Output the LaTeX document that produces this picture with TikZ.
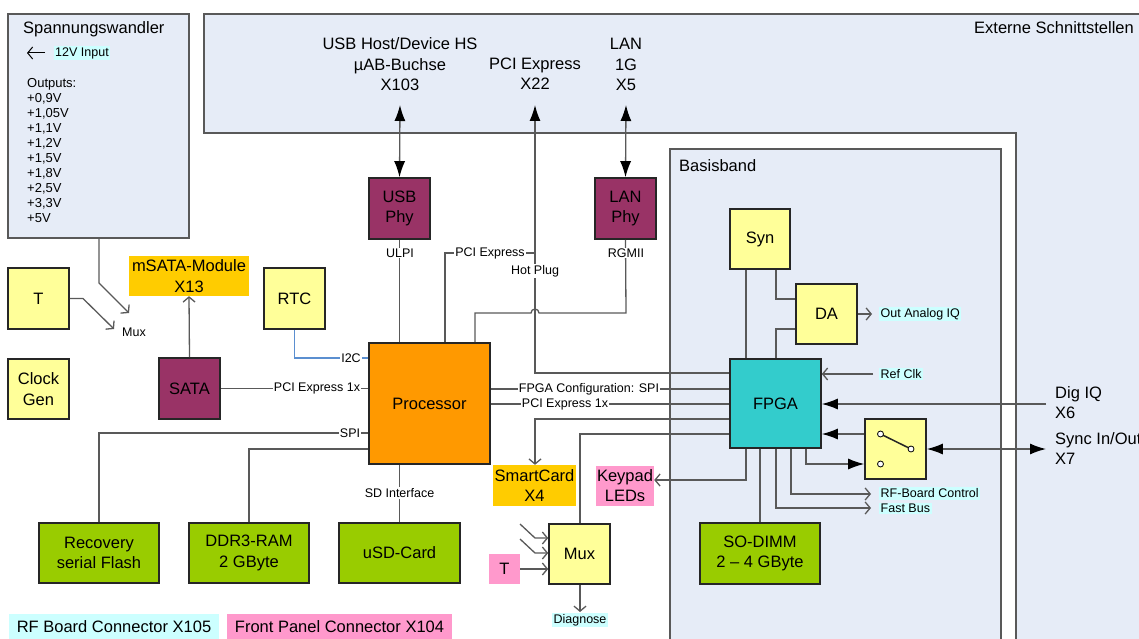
\documentclass[tikz,border=0pt]{standalone}
\usepackage{fontspec}
\setmainfont{Liberation Sans}
\usetikzlibrary{arrows.meta}
\definecolor{bgblue}{HTML}{E6ECF7}
\definecolor{boxline}{HTML}{262626}
\definecolor{linec}{HTML}{595959}
\definecolor{yellowc}{HTML}{FFFF99}
\definecolor{purplec}{HTML}{993366}
\definecolor{greenc}{HTML}{99CC00}
\definecolor{tealc}{HTML}{33CCCC}
\definecolor{procc}{HTML}{FF9900}
\definecolor{goldc}{HTML}{FFCC00}
\definecolor{pinkc}{HTML}{FF99CC}
\definecolor{cyanc}{HTML}{CCFFFF}
\definecolor{i2cc}{HTML}{5B8FD0}
\newcommand\fbig{\fontsize{16.5}{20.5}\selectfont}
\newcommand\fsmall{\fontsize{12.5}{15}\selectfont}
\newcommand\fmid{\fontsize{13}{15}\selectfont}
\begin{document}
\begin{tikzpicture}[x=1pt,y=-1pt,
  box/.style={draw=boxline, line width=1.6pt, inner sep=0pt, align=center, font=\fbig, text=black},
  ybox/.style={box, fill=yellowc},
  pbox/.style={box, fill=purplec},
  gbox/.style={box, fill=greenc},
  tag/.style={inner sep=0pt, align=center, font=\fbig},
  lbl/.style={fill=white, inner sep=1pt, font=\fsmall},
  hl/.style={fill=cyanc, inner sep=1.5pt, font=\fsmall},
  conn/.style={draw=linec, line width=1.3pt},
  fa/.style={-{Latex[length=16pt,width=11pt,color=black]}},
  fab/.style={{Latex[length=16pt,width=11pt,color=black]}-{Latex[length=16pt,width=11pt,color=black]}},
  oa/.style={-{Straight Barb[length=5pt,width=12pt]}},
  frame/.style={draw=linec, line width=1.3pt, fill=bgblue}
]
\useasboundingbox (0,0) rectangle (1139,639);
\clip (0,0) rectangle (1139,639);

% background frames
\path[frame] (204,133) -- (204,14) -- (1160,14) -- (1160,660) -- (1016,660) -- (1016,133) -- cycle;
\path[frame] (670,149) rectangle (1001,660);
\path[frame] (8,14) rectangle (189,238);

\node[anchor=east, font=\fbig, inner sep=0pt] (extlbl) at (1134,28) {Externe Schnittstellen};
\node[anchor=west, font=\fbig, inner sep=0pt] (bblbl) at (679,166) {Basisband};
\node[anchor=west, font=\fbig, inner sep=0pt] (spwlbl) at (23,29) {Spannungswandler};
\node[hl] (in12) at (82,53) {12V Input};
\coordinate (in12a) at (45,53);
\coordinate (in12b) at (27,53);
\draw[line width=1pt, -{Straight Barb[length=5pt,width=12pt]}] (in12a) -- (in12b);
\node[anchor=north west, align=left, font=\fmid, inner sep=0pt] (outs) at (27,78)
  {Outputs:\\+0,9V\\+1,05V\\+1,1V\\+1,2V\\+1,5V\\+1,8V\\+2,5V\\+3,3V\\+5V};

% top labels
\node[tag] (usblbl) at (400,64.5) {USB Host/Device HS\\µAB-Buchse\\X103};
\node[tag] (pcilbl) at (535,73.5) {PCI Express\\X22};
\node[tag] (lanlbl) at (626,64.5) {LAN\\1G\\X5};

% boxes
\node[ybox, minimum width=61pt, minimum height=61pt] (T) at (38.5,298.5) {T};
\node[ybox, minimum width=61pt, minimum height=60pt] (clk) at (38.5,389) {Clock\\Gen};
\node[tag, fill=goldc, minimum width=120pt, minimum height=40pt] (msata) at (189,276) {mSATA-Module\\X13};
\node[ybox, minimum width=61pt, minimum height=61pt] (rtc) at (294.5,298.5) {RTC};
\node[pbox, minimum width=61pt, minimum height=61pt] (sata) at (189.5,388.5) {SATA};
\node[pbox, minimum width=61pt, minimum height=61pt] (usbphy) at (399.5,208.5) {USB\\Phy};
\node[pbox, minimum width=61pt, minimum height=61pt] (lanphy) at (625.5,208.5) {LAN\\Phy};
\node[box, fill=procc, minimum width=121pt, minimum height=121pt] (proc) at (429.5,403.5) {Processor};
\node[gbox, minimum width=120pt, minimum height=60pt] (flash) at (99,553) {Recovery\\serial Flash};
\node[gbox, minimum width=120pt, minimum height=60pt] (ddr) at (249,553) {DDR3-RAM\\2 GByte};
\node[gbox, minimum width=121pt, minimum height=60pt] (usd) at (399.5,553) {uSD-Card};
\node[tag, fill=goldc, minimum width=83pt, minimum height=41pt] (smart) at (534.5,485.5) {SmartCard\\X4};
\node[tag, fill=pinkc, minimum width=58pt, minimum height=40pt] (keypad) at (625,485.5) {Keypad\\LEDs};
\node[ybox, minimum width=61pt, minimum height=60pt] (mux) at (579.5,554) {Mux};
\node[tag, fill=pinkc, minimum width=31pt, minimum height=30pt] (tp) at (504.5,569) {T};
\node[ybox, minimum width=60pt, minimum height=60pt] (syn) at (760,239) {Syn};
\node[ybox, minimum width=61pt, minimum height=60pt] (da) at (826.5,314) {DA};
\node[box, fill=tealc, minimum width=91pt, minimum height=89pt] (fpga) at (775.5,403.5) {FPGA};
\node[gbox, minimum width=120pt, minimum height=61pt] (sodimm) at (760,553.5) {SO-DIMM\\2 -- 4 GByte};
\node[ybox, minimum width=61pt, minimum height=60pt] (sw) at (895.5,449) {};
\node[tag, fill=cyanc, minimum width=210pt, minimum height=26pt] (rfleg) at (114,627) {RF Board Connector X105};
\node[tag, fill=pinkc, minimum width=225pt, minimum height=26pt] (fpleg) at (339.5,627) {Front Panel Connector X104};

% switch symbol
\draw[line width=1.5pt, boxline] (880.5,434) -- (911,449);
\foreach \n/\p in {s1/{(880.5,434)}, s2/{(911,449)}, s3/{(880.5,464)}}
  \draw[line width=0.8pt, fill=white] \p circle (3);

% external connection points
\coordinate (usbtop) at (400,105);
\coordinate (lantop) at (626,105);
\coordinate (pcitop) at (535,105);

% top connectors
\draw[conn, fab] (usbtop) -- (usbphy.north);
\draw[conn, fab] (lantop) -- (lanphy.north);
\draw[conn, {Latex[length=16pt,width=11pt,color=black]}-] (pcitop) -- (535,373) -- (fpga.west |- 0,373);
\draw[conn] (proc.north -| 445,0) -- (445,253) -- (535,253);
\draw[conn] (usbphy.south) -- (usbphy.south |- proc.north);
\draw[conn] (lanphy.south) -- (626,313) -- (539,313) arc (0:-180:4) -- (475,313) -- (proc.north -| 475,0);
\node[lbl] (pcie) at (490,253) {PCI Express};
\node[lbl] (hotplug) at (535,271) {Hot Plug};
\node[lbl] (ulpi) at (400,253) {ULPI};
\node[lbl] (rgmii) at (626,253) {RGMII};

% left connectors
\draw[line width=1.3pt, draw=i2cc] (rtc.south) -- (294.5,358) -- (proc.west |- 0,358);
\node[lbl] (i2c) at (351,358) {I2C};
\draw[conn] (sata.east) -- (proc.west |- sata.east);
\node[lbl] (pcie1) at (317,388.5) {PCI Express 1x};
\draw[conn, oa] (sata.north) -- (msata.south);
\draw[conn] (proc.west |- 0,433) -- (99,433) -- (flash.north);
\node[lbl] (spi) at (350,433) {SPI};
\draw[conn] (proc.west |- 0,449) -- (249,449) -- (ddr.north);
\draw[conn] (usd.north |- proc.south) -- (usd.north);
\node[lbl] (sdif) at (399.5,493) {SD Interface};

% Mux (left)
\draw[conn, oa] (99,238) -- (99,283) -- (129,313);
\draw[conn, oa] (T.east) -- (83,298.5) -- (114,329);
\node[inner sep=0pt, font=\fsmall] (muxlbl) at (134,332) {Mux};

% processor - FPGA
\draw[conn] (proc.east |- 0,389) -- (fpga.west |- 0,389);
\node[lbl] (fpgacfg) at (589,389) {FPGA Configuration: SPI};
\draw[conn] (proc.east |- 0,404) -- (fpga.west |- 0,404);
\node[lbl] (pcie2) at (565,404) {PCI Express 1x};
\draw[conn, oa] (fpga.west |- 0,419) -- (535,419) -- (smart.north -| 535,0);
\draw[conn] (fpga.west |- 0,434) -- (580,434) -- (mux.north -| 580,0);

% Mux (bottom)
\draw[conn, oa] (520,524) -- (535,538) -- (mux.west |- 0,538);
\draw[conn, oa] (520,539) -- (535,553) -- (mux.west |- 0,553);
\draw[conn, oa] (tp.east) -- (mux.west |- tp.east);
\coordinate (diagend) at (580,612);
\draw[conn, oa] (mux.south -| 580,0) -- (diagend);
\node[hl] (diag) at (580,620) {Diagnose};

% FPGA bottom
\draw[conn, oa] (fpga.south -| 746,0) -- (746,480) -- (keypad.east |- 0,480);
\draw[conn] (fpga.south -| sodimm.north) -- (sodimm.north);
\coordinate (fastend) at (871,508);
\coordinate (rfend) at (871,494);
\draw[conn, oa] (fpga.south -| 776,0) -- (776,508) -- (fastend);
\draw[conn, oa] (fpga.south -| 791,0) -- (791,494) -- (rfend);
\draw[conn, fa] (fpga.south -| 806,0) -- (806,464) -- (sw.west |- 0,464);
\node[hl, anchor=west] (rfctl) at (879,493.5) {RF-Board Control};
\node[hl, anchor=west] (fastbus) at (879,508.5) {Fast Bus};

% FPGA right
\draw[conn, fa] (sw.west |- 0,434) -- (fpga.east |- 0,434);
\coordinate (syncend) at (1046,449);
\draw[conn, fab] (sw.east) -- (syncend);
\coordinate (digend) at (1046,404);
\draw[conn, fa] (digend) -- (fpga.east |- 0,404);
\coordinate (refend) at (873,374);
\draw[conn, oa] (refend) -- (fpga.east |- 0,374);
\node[hl, anchor=west] (refclk) at (879,374) {Ref Clk};
\node[tag, align=left, anchor=west] (digiq) at (1055,402.5) {Dig IQ\\X6};
\node[tag, align=left, anchor=west] (sync) at (1055,448.5) {Sync In/Out\\X7};

% Syn / DA
\draw[conn] (syn.south -| 746,0) -- (fpga.north -| 746,0);
\draw[conn] (syn.south -| 776,0) -- (776,299) -- (da.west |- 0,299);
\draw[conn] (fpga.north -| 776,0) -- (776,329) -- (da.west |- 0,329);
\coordinate (daend) at (872,314);
\draw[conn, oa] (da.east) -- (daend);
\node[hl, anchor=west] (outiq) at (879,314) {Out Analog IQ};
\end{tikzpicture}
\end{document}
